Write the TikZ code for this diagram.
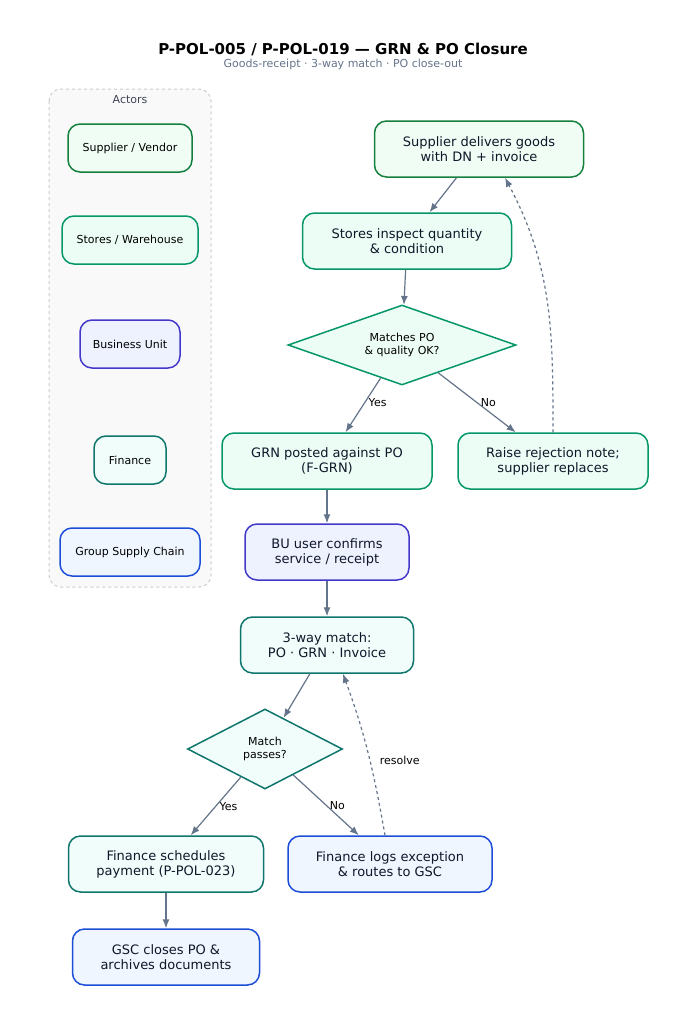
\documentclass[tikz,border=0pt]{standalone}
\usepackage{fontspec}
\setmainfont{DejaVu Sans}
\usetikzlibrary{arrows.meta,shapes.geometric}
\definecolor{grnB}{HTML}{15803D}\definecolor{grnF}{HTML}{F0FDF4}
\definecolor{emB}{HTML}{059669}\definecolor{emF}{HTML}{ECFDF5}
\definecolor{puB}{HTML}{4338CA}\definecolor{puF}{HTML}{EEF2FF}
\definecolor{tlB}{HTML}{0F766E}\definecolor{tlF}{HTML}{F0FDFA}
\definecolor{blB}{HTML}{1D4ED8}\definecolor{blF}{HTML}{EFF6FF}
\definecolor{edge}{HTML}{64748B}\definecolor{ink}{HTML}{0F172A}

\begin{document}
\begin{tikzpicture}[x=1pt,y=-1pt,
    box/.style={rounded corners=12pt, line width=1.5pt, align=center, text=ink,
      font=\fontsize{13}{15}\selectfont, minimum height=56pt, inner sep=2pt},
    actor/.style={rounded corners=12pt, line width=1.5pt, align=center,
      font=\fontsize{11}{13}\selectfont, minimum height=48pt, inner sep=2pt},
    dec/.style={diamond, line width=1.5pt, align=center, aspect=2.85,
      font=\fontsize{11}{13}\selectfont, inner sep=0pt},
    arr/.style={draw=edge, line width=1.2pt, -{Latex[length=9pt,width=7pt]}},
    lbl/.style={font=\fontsize{11}{13}\selectfont, text=black}]
    \useasboundingbox (0,0) rectangle (687,1023);
    \fill[white] (0,0) rectangle (687,1023);

    % title
    \node[font=\bfseries\fontsize{15}{17}\selectfont] (title) at (343,49) {P-POL-005 / P-POL-019 — GRN \& PO Closure};
    \node[font=\fontsize{11}{13}\selectfont, text=edge] (sub) at (343,64) {Goods-receipt · 3-way match · PO close-out};

    % actors panel
    \draw[gray!40, dashed, line width=1pt, fill=gray!5, rounded corners=12pt] (49,89) rectangle (211,587);
    \node[lbl, text=ink!80] (act) at (130,100) {Actors};
    \node[actor, draw=grnB, fill=grnF, minimum width=124pt] (aSup) at (130,148) {Supplier / Vendor};
    \node[actor, draw=emB, fill=emF, minimum width=136pt] (aSto) at (130,240) {Stores / Warehouse};
    \node[actor, draw=puB, fill=puF, minimum width=100pt] (aBU) at (130,344) {Business Unit};
    \node[actor, draw=tlB, fill=tlF, minimum width=72pt] (aFin) at (130,460) {Finance};
    \node[actor, draw=blB, fill=blF, minimum width=140pt] (aGSC) at (130,552) {Group Supply Chain};

    % flow
    \node[box, draw=grnB, fill=grnF, minimum width=209pt] (deliver) at (479,149) {Supplier delivers goods\\with DN + invoice};
    \node[box, draw=emB, fill=emF, minimum width=209pt] (inspect) at (407,241) {Stores inspect quantity\\\& condition};
    \node[dec, draw=emB, fill=emF, minimum width=228pt, minimum height=80pt] (okQ) at (402,345) {Matches PO\\\& quality OK?};
    \node[box, draw=emB, fill=emF, minimum width=210pt] (grn) at (327,461) {GRN posted against PO\\(F-GRN)};
    \node[box, draw=emB, fill=emF, minimum width=190pt] (reject) at (553,461) {Raise rejection note;\\supplier replaces};
    \node[box, draw=puB, fill=puF, minimum width=164pt] (confirm) at (327,552) {BU user confirms\\service / receipt};
    \node[box, draw=tlB, fill=tlF, minimum width=173pt] (match) at (327,645) {3-way match:\\PO · GRN · Invoice};
    \node[dec, draw=tlB, fill=tlF, minimum width=155pt, minimum height=80pt] (passQ) at (265,749) {Match\\passes?};
    \node[box, draw=tlB, fill=tlF, minimum width=195pt] (pay) at (166,864) {Finance schedules\\payment (P-POL-023)};
    \node[box, draw=blB, fill=blF, minimum width=204pt] (except) at (390,864) {Finance logs exception\\\& routes to GSC};
    \node[box, draw=blB, fill=blF, minimum width=187pt] (close) at (166,957) {GSC closes PO \&\\archives documents};

    % connectors
    \draw[arr] (deliver) -- (inspect);
    \draw[arr] (inspect) -- (okQ);
    \draw[arr] (okQ) -- node[lbl, right, pos=0.45] {Yes} (grn);
    \draw[arr] (okQ) -- node[lbl, right, pos=0.5] {No} (reject);
    \draw[arr, dashed] (reject.north) to[out=90, in=-62] (deliver.south east -| 505,0);
    \draw[arr] (grn) -- (confirm);
    \draw[arr] (confirm) -- (match);
    \draw[arr] (match) -- (passQ);
    \draw[arr] (passQ) -- node[lbl, right, pos=0.5] {Yes} (pay);
    \draw[arr] (passQ) -- node[lbl, right, pos=0.5] {No} (except);
    \draw[arr, dashed] (except.north -| 385,0) to[out=100, in=-70] node[lbl, right=6pt, pos=0.45] {resolve} (match.south -| 343,0);
    \draw[arr] (pay) -- (close);
\end{tikzpicture}
\end{document}
